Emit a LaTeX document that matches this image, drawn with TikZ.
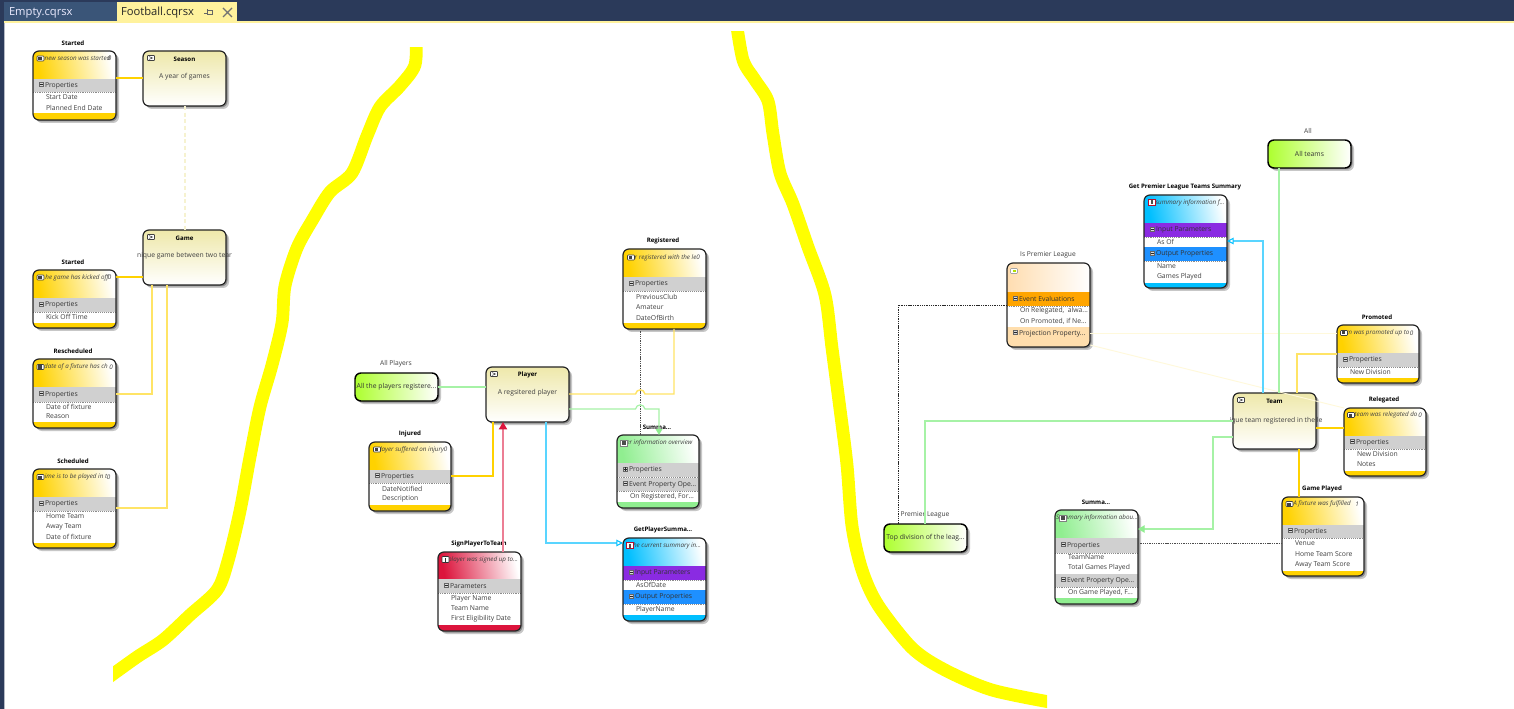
\documentclass[tikz,border=0pt]{standalone}
\usepackage{fontspec}
\setmainfont{Open Sans}
\usetikzlibrary{arrows.meta}
\definecolor{navy}{HTML}{2B3A5A}
\definecolor{tabdark}{HTML}{3A5578}
\definecolor{tabyel}{HTML}{FFF29D}
\definecolor{evgold}{HTML}{FFD200}
\definecolor{cmdred}{HTML}{DC143C}
\definecolor{qblue}{HTML}{00BFFF}
\definecolor{sumgreen}{HTML}{90EE90}
\definecolor{palegreen}{HTML}{A6F2A6}
\definecolor{clsgreen}{HTML}{ADFF2F}
\definecolor{agg}{HTML}{EEE8AA}
\definecolor{peach}{HTML}{FFDEAD}
\definecolor{bisq}{HTML}{FFDDB0}
\definecolor{secgrey}{HTML}{D0D0D0}
\definecolor{inpurple}{HTML}{8A2BE2}
\definecolor{outblue}{HTML}{1E90FF}
\definecolor{evorange}{HTML}{FFA500}
\definecolor{txtc}{HTML}{404040}
\definecolor{highlighter}{HTML}{FFFF00}
\newcount\txtcnt
\tikzset{
  txt/.style={inner sep=0pt,outer sep=0pt,text=txtc,font=\fontsize{5.1}{6}\selectfont},
  ttl/.style={txt,text=black,font=\fontsize{4.6}{6}\selectfont\bfseries},
  lab/.style={txt,font=\fontsize{5}{6}\selectfont},
  sub/.style={txt,text=black!75,font=\fontsize{4.7}{6}\selectfont\itshape},
  cardbox/.style={draw=#1,line width=0.9pt,rounded corners=4.5pt,inner sep=0pt,outer sep=0pt},
  cardbox/.default=black!85,
  yel/.style={draw=evgold,line width=0.8pt},
  pyel/.style={draw=evgold!60,line width=1.1pt},
  grn/.style={draw=palegreen,line width=0.9pt},
  blu/.style={draw=qblue!65,line width=0.8pt},
  dot/.style={draw=black!70,line width=0.55pt,dash pattern=on 1pt off .7pt},
  faint/.style={draw=evgold!14,line width=0.7pt},
  stroke/.style={draw=highlighter,line width=9.6pt,line join=round},
}
% text with automatic name
\newcommand\tx[4][]{\global\advance\txtcnt by 1\relax
  \node[#1] (t\the\txtcnt) at ({#2},{#3}) {#4};}
% card: name,x1,y1,x2,y2,body
\newcommand\card[6]{%
  \def\cxa{#2}\def\cxb{#4}%
  \fill[black!22,rounded corners=4.5pt] ({#2+3},{#3+3}) rectangle ({#4+3},{#5+3});
  \fill[black!45,rounded corners=4.5pt] ({#2+1.5},{#3+1.5}) rectangle ({#4+1.5},{#5+1.5});
  \fill[white,rounded corners=4.5pt] (#2,#3) rectangle (#4,#5);
  \begin{scope}
    \clip[rounded corners=4.5pt] (#2,#3) rectangle (#4,#5);
    #6
  \end{scope}
  \node[cardbox,minimum width={(#4-#2)*0.75pt},minimum height={(#5-#3)*0.75pt}]
    (#1) at ({(#2+#4)/2},{(#3+#5)/2}) {};
}
% header: y1,y2,colour
\newcommand\hdr[3]{\shade[left color=#3,right color=white,shading angle=102]
   (\cxa,#1) rectangle (\cxb,#2);
  \fill[#3] (\cxa,{#2-0.3}) rectangle (\cxb,{#2+0.3});}
% band
\newcommand\band[3]{\fill[#3] (\cxa,#1) rectangle (\cxb,#2);}
% compartment: y1,y2,fill,label
\newcommand\comp[4]{\fill[#3] (\cxa,#1) rectangle (\cxb,#2);
  \draw[black!45,line width=.4pt,densely dotted] (\cxa,#2) -- (\cxb,#2);
  \fill[white!85!black,draw=black!60,line width=.25pt] ({\cxa+6},{(#1+#2)/2-3}) rectangle ({\cxa+10.5},{(#1+#2)/2+1});
  \draw[black!85,line width=.45pt] ({\cxa+6.8},{(#1+#2)/2-1}) -- ({\cxa+9.7},{(#1+#2)/2-1});
  \tx[txt,anchor=west,text=black!80]{\cxa+12}{(#1+#2)/2}{#4}}
% row
\newcommand\rowt[2]{\tx[txt,anchor=west]{\cxa+13}{#1}{#2}}
% icons: x,y
\newcommand\evicon[2]{\draw[black!75,fill=white,line width=.45pt,rounded corners=.6pt] ({#1-3.5},{#2-2.5}) rectangle ({#1+3.5},{#2+2.5});
  \fill[black!75] ({#1-2.5},{#2-1.5}) rectangle ({#1+1},{#2+1.5});}
\newcommand\agicon[2]{\draw[black!75,fill=white,line width=.45pt,rounded corners=.5pt] ({#1-3.5},{#2-2.5}) rectangle ({#1+3.5},{#2+2.5});
  \draw[black!80,line width=.4pt] ({#1-2},{#2-1.4}) -- ({#1+1.5},{#2}) -- ({#1-2},{#2+1.4});}
\newcommand\cmicon[2]{\draw[black!80,fill=white,line width=.45pt,rounded corners=.6pt] ({#1-3.5},{#2-3}) rectangle ({#1+3.5},{#2+3});
  \fill[black!80] ({#1-.6},{#2-2}) rectangle ({#1+.6},{#2+2});}
\newcommand\qicon[2]{\draw[cmdred!80!black,fill=white,line width=.45pt] ({#1-3.5},{#2-3}) rectangle ({#1+3.5},{#2+3});
  \fill[black!70] ({#1-.6},{#2-2}) rectangle ({#1+.6},{#2+2});}
\newcommand\smicon[2]{\draw[black!50,fill=white,line width=.45pt] ({#1-3.5},{#2-3}) rectangle ({#1+3.5},{#2+3});
  \fill[black!70] ({#1-2},{#2-2}) rectangle ({#1+2},{#2+2});}
\newcommand\pricon[2]{\draw[black!35,fill=white,line width=.4pt,rounded corners=.5pt] ({#1-3.5},{#2-2.5}) rectangle ({#1+3.5},{#2+2.5});
  \fill[evgold!70!green] ({#1-1.5},{#2-1}) rectangle ({#1+1.5},{#2+1});}
% aggregate: name,x1,y1,x2,y2,title,text
\newcommand\aggr[7]{%
  \fill[black!22,rounded corners=4.5pt] ({#2+3},{#3+3}) rectangle ({#4+3},{#5+3});
  \fill[black!45,rounded corners=4.5pt] ({#2+1.5},{#3+1.5}) rectangle ({#4+1.5},{#5+1.5});
  \node[cardbox,top color=agg,bottom color=white,minimum width={(#4-#2)*0.75pt},minimum height={(#5-#3)*0.75pt}]
    (#1) at ({(#2+#4)/2},{(#3+#5)/2}) {};
  \agicon{#2+8}{#3+7}
  \tx[ttl]{(#2+#4)/2}{#3+8}{#6}
  \tx[txt]{(#2+#4)/2}{#3+26}{#7}
}
% classification: name,x1,y1,x2,y2,label,labelx,text
\newcommand\clsf[8]{%
  \fill[black!22,rounded corners=4.5pt] ({#2+3},{#3+3}) rectangle ({#4+3},{#5+3});
  \fill[black!45,rounded corners=4.5pt] ({#2+1.5},{#3+1.5}) rectangle ({#4+1.5},{#5+1.5});
  \node[cardbox=black,line width=1.1pt,left color=clsgreen,right color=white,minimum width={(#4-#2)*0.75pt},minimum height={(#5-#3)*0.75pt}]
    (#1) at ({(#2+#4)/2},{(#3+#5)/2}) {};
  \tx[lab]{#7}{#3-9}{#6}
  \tx[txt,text=black!80]{(#2+#4)/2}{(#3+#5)/2}{#8}
}
\begin{document}
\begin{tikzpicture}[x=0.75pt,y=-0.75pt]
\useasboundingbox (0,0) rectangle (1514,709);
\fill[white] (0,0) rectangle (1514,709);
% window chrome
\fill[navy] (0,0) rectangle (1514,21);
\fill[navy] (0,0) rectangle (4,709);
\fill[navy!35!white] (4,23) rectangle (5,709);
\fill[tabdark] (4,2) rectangle (117,21);
\fill[tabyel] (117,2) rectangle (237,21);
\fill[tabyel] (4,21) rectangle (1514,23);
\tx[txt,anchor=west,text=white!92!blue,font=\fontsize{8.4}{10}\selectfont]{9}{13}{Empty.cqrsx}
\tx[txt,anchor=west,text=black!85,font=\fontsize{8.4}{10}\selectfont]{121}{13}{Football.cqrsx}
\draw[black!60,line width=.6pt] (204,13) -- (207,13) (207,9.5) -- (207,15.5) (207,10.5) rectangle (212,14.5);
\draw[black!55,line width=1pt] (223,8) -- (232,17) (232,8) -- (223,17);
% highlighter strokes
\begin{scope}
\clip (113,48) rectangle (430,700);
\draw[stroke] plot[smooth,tension=.5] coordinates {(416,35) (415,65) (400,86) (380,107) (367,136) (352,173) (330,192) (313,219) (297,248) (285,286) (282,323) (272,365) (260,407) (250,457) (240,511) (228,561) (217,590) (190,615) (163,640) (137,657) (105,680)};
\end{scope}
\begin{scope}
\clip (720,32) rectangle (1047,709);
\draw[stroke] plot[smooth,tension=.5] coordinates {(736,20) (743,60) (755,80) (768,101) (773,134) (780,173) (793,204) (808,247) (825,295) (832,348) (840,409) (847,465) (852,526) (862,570) (878,605) (912,648) (945,670) (992,690) (1055,703)};
\end{scope}

% ---------- left group
\tx[ttl]{73}{43}{Started}
\card{startedS}{33}{51}{116}{120}{\hdr{51}{79}{evgold}\comp{79}{92}{secgrey}{Properties}\rowt{97.5}{Start Date}\rowt{108}{Planned End Date}\band{113}{120}{evgold}
  \tx[sub]{77.5}{58.5}{new season was started}\tx[sub]{109.5}{58.5}{0}\evicon{40.5}{58.5}}
\aggr{season}{143}{51}{226}{106}{Season}{A year of games}
\aggr{game}{143}{230}{226}{285}{Game}{nique game between two tear}
\tx[ttl]{73}{262}{Started}
\card{startedG}{33}{270}{116}{328}{\hdr{270}{298}{evgold}\comp{298}{312}{secgrey}{Properties}\rowt{317}{Kick Off Time}\band{323}{328}{evgold}
  \tx[sub]{77}{277.5}{he game has kicked off}\tx[sub]{109.5}{277.5}{0}\evicon{40.5}{277.5}}
\tx[ttl]{73}{351}{Rescheduled}
\card{resched}{33}{359}{116}{428}{\hdr{359}{387}{evgold}\comp{387}{402}{secgrey}{Properties}\rowt{406.5}{Date of fixture}\rowt{416.5}{Reason}\band{422}{428}{evgold}
  \tx[sub]{76}{367}{date of a fixture has ch}\tx[sub]{111}{367}{0}\evicon{40.5}{367}}
\tx[ttl]{73}{461}{Scheduled}
\card{sched}{33}{469}{116}{548}{\hdr{469}{497}{evgold}\comp{497}{511}{secgrey}{Properties}\rowt{516}{Home Team}\rowt{526.5}{Away Team}\rowt{537}{Date of fixture}\band{543}{548}{evgold}
  \tx[sub]{76}{477}{ime is to be played in t}\tx[sub]{108.5}{477}{0}\evicon{40.5}{477}}

% ---------- player group
\tx[ttl]{663}{241}{Registered}
\card{registered}{623}{249}{706}{329}{\hdr{249}{277}{evgold}\comp{277}{291}{secgrey}{Properties}\rowt{296.5}{PreviousClub}\rowt{307}{Amateur}\rowt{317.5}{DateOfBirth}\band{323}{329}{evgold}
  \tx[sub]{664}{257.5}{er registered with the le}\tx[sub]{698}{257.5}{0}\evicon{631}{257.5}}
\aggr{player}{486}{367}{569}{422}{Player}{A regsitered player}
\clsf{allplayers}{355}{373}{438}{401}{All Players}{396}{All the players registere...}
\tx[ttl]{410}{434}{Injured}
\card{injured}{369}{442}{451}{511}{\hdr{442}{470}{evgold}\comp{470}{483}{secgrey}{Properties}\rowt{488.5}{DateNotified}\rowt{499}{Description}\band{505}{511}{evgold}
  \tx[sub]{412}{449.5}{layer suffered on injury}\tx[sub]{445.5}{449.5}{0}\evicon{377}{449.5}}
\tx[ttl]{479}{544}{SignPlayerToTeam}
\card{sign}{438}{552}{521}{631}{\hdr{552}{579}{cmdred}\comp{579}{593}{secgrey}{Parameters}\rowt{598.5}{Player Name}\rowt{608.5}{Team Name}\rowt{619}{First Eligibility Date}\band{625}{631}{cmdred}
  \tx[sub]{483}{559.5}{player was signed up to...}\cmicon{445.5}{559.5}}
\tx[ttl]{657}{427}{Summa...}
\card{sumP}{617}{435}{699}{508}{\hdr{435}{463}{sumgreen}\comp{463}{477}{secgrey}{Properties}\comp{478}{491}{secgrey}{Event Property Ope...}\rowt{496.5}{On Registered, For...}\band{502}{508}{sumgreen}
  \draw[black!85,line width=.45pt] (625.2,467) -- (625.2,471);
  \tx[sub]{658}{443}{ver information overview}\smicon{624}{443}}
\tx[ttl]{663}{530}{GetPlayerSumma...}
\card{getP}{623}{538}{706}{621}{\hdr{538}{566}{qblue}\comp{566}{580}{inpurple}{Input Parameters}\rowt{585}{AsOfDate}\comp{590}{604}{outblue}{Output Properties}\rowt{609.5}{PlayerName}\band{615}{621}{qblue}
  \tx[sub]{666}{545.5}{the current summary in...}\qicon{630}{545.5}}

% ---------- team group
\clsf{all}{1268}{140}{1351}{168}{All}{1308}{All teams}
\tx[ttl]{1185}{187}{Get Premier League Teams Summary}
\card{getT}{1144}{195}{1227}{288}{\hdr{195}{223}{qblue}\comp{223}{237}{inpurple}{Input Parameters}\rowt{241.5}{As Of}\comp{247}{261}{outblue}{Output Properties}\rowt{266}{Name}\rowt{276.5}{Games Played}\band{283}{288}{qblue}
  \tx[sub]{1190}{202.5}{summary information f...}\qicon{1152}{202.5}}
\tx[lab]{1048}{255}{Is Premier League}
\card{isprem}{1007}{263}{1090}{347}{\shade[left color=bisq,right color=white] (1007,263) rectangle (1090,292);\comp{292}{306}{evorange}{Event Evaluations}\rowt{310.5}{On Relegated,\ \ alwa...}\rowt{321}{On Promoted, if Ne...}\comp{327}{340}{peach}{Projection Property...}\band{339.6}{347}{peach}\pricon{1014}{271}}
\tx[ttl]{1377}{317}{Promoted}
\card{promoted}{1337}{325}{1419}{383}{\hdr{325}{353}{evgold}\comp{353}{367}{secgrey}{Properties}\rowt{372}{New Division}\band{378}{383}{evgold}
  \tx[sub]{1378}{333}{m was promoted up to}\tx[sub]{1411.5}{333}{0}\evicon{1344}{333}}
\aggr{team}{1233}{393}{1316}{449}{Team}{}
\tx[txt]{1276}{420.5}{ique team registered in the le}
\tx[ttl]{1384}{400}{Relegated}
\card{relegated}{1344}{408}{1426}{476}{\hdr{408}{436}{evgold}\comp{436}{449}{secgrey}{Properties}\rowt{454}{New Division}\rowt{464.5}{Notes}\band{471}{476}{evgold}
  \tx[sub]{1386}{415}{team was relegated do}\tx[sub]{1420}{415}{0}\evicon{1351}{415}}
\tx[ttl]{1322}{489}{Game Played}
\card{gameplayed}{1282}{497}{1364}{576}{\hdr{497}{525}{evgold}\comp{525}{538}{secgrey}{Properties}\rowt{543.5}{Venue}\rowt{554}{Home Team Score}\rowt{564.5}{Away Team Score}\band{571}{576}{evgold}
  \tx[sub]{1322}{504}{A fixture was fulfilled}\tx[sub]{1357}{504}{1}\evicon{1289.5}{504}}
\clsf{topdiv}{884}{524}{967}{552}{Premier League}{925}{Top division of the leag...}
\tx[ttl]{1096}{502}{Summa...}
\card{sumT}{1055}{510}{1138}{604}{\hdr{510}{538}{sumgreen}\comp{538}{553}{secgrey}{Properties}\rowt{557.5}{TeamName}\rowt{568}{Total Games Played}\comp{574}{587}{secgrey}{Event Property Ope...}\rowt{593}{On Game Played, F...}\band{598}{604}{sumgreen}
  \tx[sub]{1097}{518}{Summary information abou...}\smicon{1063}{518}}

% ---------- connectors, left group
\draw[yel] (startedS.east |- 0,78) -- (season.west |- 0,78);
\draw[draw=agg!55,line width=1.5pt,densely dashed] (season.south) -- (game.north);
\draw[yel] (startedG.east |- 0,277) -- (game.west |- 0,277);
\draw[pyel] (resched.east |- 0,394) -- (152,394) -- (game.south -| 152,0);
\draw[pyel] (sched.east |- 0,508) -- (167,508) -- (game.south -| 167,0);
% connectors, player group
\draw[grn] (allplayers.east |- 0,387) -- (player.west |- 0,387);
\draw[dot] (registered.south -| 640,0) -- (sumP.north -| 640,0);
\draw[pyel] (player.east |- 0,394) -- (635.5,394) .. controls (636.5,388.5) and (644,388.5) .. (645,394) -- (674,394) -- (registered.south -| 674,0);
\draw[grn,-{Triangle[length=4.5pt,width=5pt,color=sumgreen,fill=sumgreen]}] (player.east |- 0,409) -- (635.5,409) .. controls (636.5,403.5) and (644,403.5) .. (645,409) -- (659,409) -- (sumP.north -| 659,0);
\draw[yel] (injured.east |- 0,476) -- (493,476) -- (player.south -| 493,0);
\draw[draw=cmdred!55,line width=1.4pt,-{Triangle[length=5.5pt,width=6pt,color=cmdred,fill=cmdred]}] (sign.north -| 503,0) -- (player.south -| 503,0);
\draw[blu,-{Triangle[length=5pt,width=5pt,color=qblue,fill=white]}] (player.south -| 546,0) -- (546,543) -- (getP.west |- 0,543);
% connectors, team group
\draw[dot,draw=black!85] (isprem.west |- 0,305) -- (898,305) -- (topdiv.north -| 898,0);
\draw[faint] (isprem.east |- 0,333) -- (promoted.west |- 0,333);
\draw[faint] (isprem.east |- 0,345) -- (relegated.west |- 0,408);
\draw[grn] (all.south -| 1279,0) -- (team.north -| 1279,0);
\draw[blu,-{Triangle[length=5pt,width=5pt,color=qblue,fill=white]}] (team.north -| 1263,0) -- (1263,241) -- (getT.east |- 0,241);
\draw[pyel] (team.north -| 1297,0) -- (1297,354) -- (promoted.west |- 0,354);
\draw[yel] (team.east |- 0,428) -- (relegated.west |- 0,428);
\draw[yel,line width=1pt] (team.south -| 1299,0) -- (gameplayed.north -| 1299,0);
\draw[grn] (team.west |- 0,421) -- (925,421) -- (topdiv.north -| 925,0);
\draw[grn,line width=1pt,-{Triangle[length=5pt,width=5.5pt,color=sumgreen,fill=sumgreen]}] (team.west |- 0,437) -- (1213,437) -- (1213,529) -- (sumT.east |- 0,529);
\draw[dot] (sumT.east |- 0,543) -- (gameplayed.west |- 0,543);
\end{tikzpicture}
\end{document}
